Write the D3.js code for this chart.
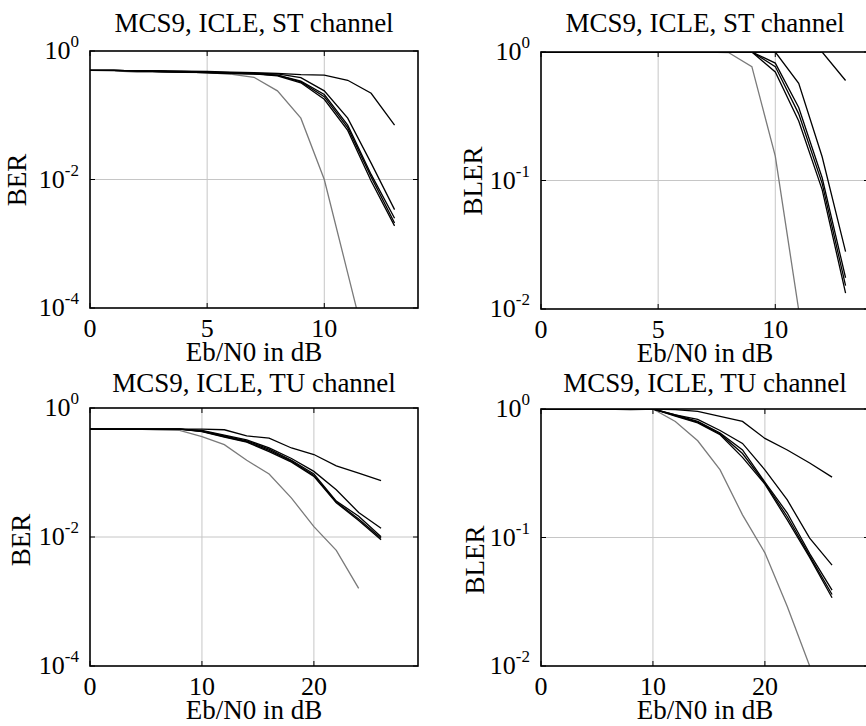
<!DOCTYPE html>
<html>
<head>
<meta charset="utf-8">
<script src="https://cdn.jsdelivr.net/npm/d3@7"></script>
<style>
  body { margin: 0; background: #fff; }
  svg { display: block; }
  text { font-family: "Liberation Serif", "Times New Roman", serif; fill: #000; }
</style>
</head>
<body>
<div id="chart"></div>
<script>
// Eb/N0 points (dB)
const stSnr = [0, 1, 2, 3, 4, 5, 6, 7, 8, 9, 10, 11, 12, 13];
const tuSnr = [0, 2, 4, 6, 8, 10, 12, 14, 16, 18, 20, 22, 24, 26];

// ST channel, BER
const stBerGray = [0.5, 0.49, 0.47, 0.47, 0.465, 0.46, 0.435, 0.39, 0.24, 0.09, 0.01, 0.00035, 0.000012];
const stBerBlack = [
  [0.5, 0.5, 0.49, 0.49, 0.485, 0.48, 0.47, 0.46, 0.45, 0.43, 0.42, 0.35, 0.22, 0.07],
  [0.5, 0.5, 0.49, 0.49, 0.48, 0.47, 0.46, 0.45, 0.44, 0.385, 0.24, 0.09, 0.018, 0.0034],
  [0.5, 0.5, 0.49, 0.48, 0.47, 0.46, 0.45, 0.44, 0.42, 0.34, 0.21, 0.07, 0.012, 0.0025],
  [0.5, 0.5, 0.49, 0.48, 0.47, 0.46, 0.45, 0.44, 0.42, 0.33, 0.195, 0.064, 0.011, 0.0021],
  [0.5, 0.5, 0.49, 0.48, 0.47, 0.46, 0.45, 0.44, 0.41, 0.32, 0.177, 0.058, 0.0095, 0.0019]
];

// ST channel, BLER
const stBlerGray = [1, 1, 1, 1, 1, 1, 1, 1, 0.99, 0.77, 0.155, 0.0098];
const stBlerBlack = [
  [1, 1, 1, 1, 1, 1, 1, 1, 1, 1, 1, 1, 1, 0.6],
  [1, 1, 1, 1, 1, 1, 1, 1, 1, 1, 1, 0.57, 0.153, 0.028],
  [1, 1, 1, 1, 1, 1, 1, 1, 1, 1, 0.82, 0.37, 0.105, 0.0175],
  [1, 1, 1, 1, 1, 1, 1, 1, 1, 1, 0.77, 0.33, 0.095, 0.0152],
  [1, 1, 1, 1, 1, 1, 1, 1, 1, 1, 0.70, 0.29, 0.085, 0.0133]
];

// TU channel, BER
const tuBerGray = [0.47, 0.47, 0.47, 0.46, 0.45, 0.36, 0.27, 0.155, 0.095, 0.04, 0.0145, 0.0062, 0.0016];
const tuBerBlack = [
  [0.47, 0.47, 0.47, 0.47, 0.47, 0.47, 0.46, 0.37, 0.34, 0.24, 0.19, 0.127, 0.098, 0.075],
  [0.47, 0.47, 0.47, 0.47, 0.47, 0.45, 0.38, 0.32, 0.24, 0.165, 0.104, 0.054, 0.024, 0.0137],
  [0.47, 0.47, 0.47, 0.47, 0.47, 0.44, 0.37, 0.31, 0.23, 0.155, 0.095, 0.036, 0.021, 0.0101],
  [0.47, 0.47, 0.47, 0.47, 0.47, 0.435, 0.36, 0.30, 0.22, 0.15, 0.09, 0.035, 0.019, 0.0096],
  [0.47, 0.47, 0.47, 0.47, 0.47, 0.43, 0.355, 0.295, 0.21, 0.145, 0.087, 0.034, 0.018, 0.0091]
];

// TU channel, BLER
const tuBlerGray = [1, 1, 1, 1, 0.985, 1, 0.8, 0.566, 0.336, 0.15, 0.076, 0.029, 0.01];
const tuBlerBlack = [
  [1, 1, 1, 1, 1, 1, 0.99, 0.957, 0.875, 0.80, 0.59, 0.48, 0.38, 0.295],
  [1, 1, 1, 1, 1, 1, 0.9, 0.83, 0.68, 0.54, 0.336, 0.196, 0.099, 0.061],
  [1, 1, 1, 1, 1, 1, 0.9, 0.8, 0.65, 0.48, 0.27, 0.155, 0.075, 0.039],
  [1, 1, 1, 1, 1, 1, 0.89, 0.79, 0.64, 0.45, 0.265, 0.145, 0.072, 0.036],
  [1, 1, 1, 1, 1, 1, 0.88, 0.78, 0.63, 0.42, 0.26, 0.137, 0.07, 0.034]
];

const stTicks = [0, 5, 10];
const tuTicks = [0, 10, 20];
const berTicks = [1, 1e-2, 1e-4];
const blerTicks = [1, 1e-1, 1e-2];

const W = 866, H = 726;
const svg = d3.select("#chart").append("svg")
  .attr("width", W)
  .attr("height", H);

const panels = [
  { id: "tl", left: 90, right: 418, top: 51, bottom: 308, xDomain: [0, 14], yDomain: [1e-4, 1],
    snr: stSnr, gray: stBerGray, black: stBerBlack, xTicks: stTicks, yTicks: berTicks,
    title: "MCS9, ICLE, ST channel", titleY: 32, ylabel: "BER", ylabelX: 26, ylabelY: 180 },
  { id: "tr", left: 541, right: 869, top: 52, bottom: 309, xDomain: [0, 14], yDomain: [1e-2, 1],
    snr: stSnr, gray: stBlerGray, black: stBlerBlack, xTicks: stTicks, yTicks: blerTicks,
    title: "MCS9, ICLE, ST channel", titleY: 32, ylabel: "BLER", ylabelX: 482, ylabelY: 181 },
  { id: "bl", left: 90, right: 418, top: 408, bottom: 666, xDomain: [0, 29.3], yDomain: [1e-4, 1],
    snr: tuSnr, gray: tuBerGray, black: tuBerBlack, xTicks: tuTicks, yTicks: berTicks,
    title: "MCS9, ICLE, TU channel", titleY: 392, ylabel: "BER", ylabelX: 30, ylabelY: 540 },
  { id: "br", left: 541, right: 869, top: 409, bottom: 666, xDomain: [0, 29.3], yDomain: [1e-2, 1],
    snr: tuSnr, gray: tuBlerGray, black: tuBlerBlack, xTicks: tuTicks, yTicks: blerTicks,
    title: "MCS9, ICLE, TU channel", titleY: 392, ylabel: "BLER", ylabelX: 484, ylabelY: 560 }
];

function expLabel(d) {
  return Math.round(Math.log10(d));
}

function drawPanel(p) {
  const x = d3.scaleLinear().domain(p.xDomain).range([p.left, p.right]);
  const y = d3.scaleLog().domain(p.yDomain).range([p.bottom, p.top]);
  const g = svg.append("g");

  g.append("clipPath").attr("id", "clip-" + p.id)
    .append("rect")
    .attr("x", p.left).attr("y", p.top)
    .attr("width", p.right - p.left).attr("height", p.bottom - p.top);

  // grid
  g.append("g").selectAll("line")
    .data(p.xTicks.filter(d => d > p.xDomain[0]))
    .join("line")
    .attr("x1", d => x(d)).attr("x2", d => x(d))
    .attr("y1", p.top).attr("y2", p.bottom)
    .attr("stroke", "#c6c6c6").attr("stroke-width", 1);
  g.append("g").selectAll("line")
    .data(p.yTicks.filter(d => d > p.yDomain[0] && d < p.yDomain[1]))
    .join("line")
    .attr("x1", p.left).attr("x2", p.right)
    .attr("y1", d => y(d)).attr("y2", d => y(d))
    .attr("stroke", "#c6c6c6").attr("stroke-width", 1);

  const line = d3.line()
    .x((d, i) => x(p.snr[i]))
    .y(d => y(d));

  const curves = g.append("g").attr("clip-path", "url(#clip-" + p.id + ")");
  curves.append("path")
    .datum(p.gray)
    .attr("fill", "none")
    .attr("stroke", "#7a7a7a")
    .attr("stroke-width", 1.3)
    .attr("d", line);
  curves.selectAll(".blk")
    .data(p.black)
    .join("path")
    .attr("class", "blk")
    .attr("fill", "none")
    .attr("stroke", "#000")
    .attr("stroke-width", 1.3)
    .attr("d", line);

  // box
  g.append("rect")
    .attr("x", p.left).attr("y", p.top)
    .attr("width", p.right - p.left).attr("height", p.bottom - p.top)
    .attr("fill", "none").attr("stroke", "#000").attr("stroke-width", 1.6);

  // tick marks, inside, on all sides
  const tk = 5;
  p.xTicks.forEach(d => {
    g.append("line").attr("x1", x(d)).attr("x2", x(d)).attr("y1", p.bottom).attr("y2", p.bottom - tk).attr("stroke", "#000");
    g.append("line").attr("x1", x(d)).attr("x2", x(d)).attr("y1", p.top).attr("y2", p.top + tk).attr("stroke", "#000");
  });
  p.yTicks.forEach(d => {
    g.append("line").attr("x1", p.left).attr("x2", p.left + tk).attr("y1", y(d)).attr("y2", y(d)).attr("stroke", "#000");
    g.append("line").attr("x1", p.right).attr("x2", p.right - tk).attr("y1", y(d)).attr("y2", y(d)).attr("stroke", "#000");
  });

  // x tick labels
  g.append("g").selectAll("text")
    .data(p.xTicks)
    .join("text")
    .attr("x", d => x(d))
    .attr("y", p.bottom + 29)
    .attr("text-anchor", "middle")
    .style("font-size", "26px")
    .text(d => d);

  // y tick labels 10^n
  const yl = g.append("g").selectAll("text")
    .data(p.yTicks)
    .join("text")
    .attr("x", p.left - 11)
    .attr("y", d => y(d) + 8)
    .attr("text-anchor", "end")
    .style("font-size", "26px");
  yl.append("tspan").text("10");
  yl.append("tspan")
    .attr("dy", -12)
    .style("font-size", "17px")
    .text(d => String(expLabel(d)));

  // title
  g.append("text")
    .attr("x", (p.left + p.right) / 2)
    .attr("y", p.titleY)
    .attr("text-anchor", "middle")
    .style("font-size", "27px")
    .text(p.title);

  // x label
  g.append("text")
    .attr("x", (p.left + p.right) / 2)
    .attr("y", p.bottom + 53)
    .attr("text-anchor", "middle")
    .style("font-size", "27px")
    .text("Eb/N0 in dB");

  // y label
  g.append("text")
    .attr("transform", "translate(" + p.ylabelX + "," + p.ylabelY + ") rotate(-90)")
    .attr("text-anchor", "middle")
    .style("font-size", "27px")
    .text(p.ylabel);
}

panels.forEach(drawPanel);
</script>
</body>
</html>
